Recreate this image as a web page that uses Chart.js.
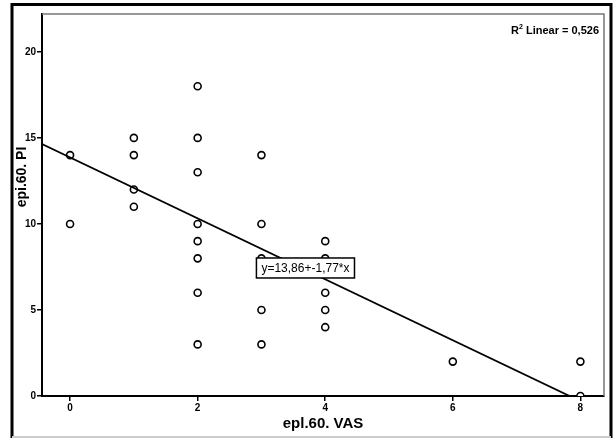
<!DOCTYPE html>
<html>
<head>
<meta charset="utf-8">
<script src="https://cdn.jsdelivr.net/npm/chart.js@4/dist/chart.umd.min.js"></script>
<style>
  html, body { margin: 0; padding: 0; background: #fff; }
  #wrap { width: 615px; height: 438px; position: relative; }
</style>
</head>
<body>
<div id="wrap"><canvas id="scatter" width="615" height="438"></canvas></div>
<script>
// data
const vas = [0, 0, 1, 1, 1, 1, 2, 2, 2, 2, 2, 2, 2, 2, 3, 3, 3, 3, 3, 4, 4, 4, 4, 4, 6, 8, 8];
const pi  = [14, 10, 15, 14, 12, 11, 18, 15, 13, 10, 9, 8, 6, 3, 14, 10, 8, 5, 3, 9, 8, 6, 5, 4, 2, 2, 0];

// fit line coefficients as printed on the chart
const fitIntercept = [13.86];
const fitSlope = [-1.77];
const r2Text = ['R', '2', ' Linear = 0,526'];
const eqText = 'y=13,86+-1,77*x';
const yTitle = 'epi.60. PI';

const xMin = -0.44, xMax = 8.37;
const yMin = 0, yMax = 22.2;

const points = vas.map((v, i) => ({ x: v, y: pi[i] }));
const b0 = fitIntercept[0], b1 = fitSlope[0];
const fitLine = [
  { x: xMin, y: b0 + b1 * xMin },
  { x: -b0 / b1, y: 0 }
];

const tickFont = { family: 'Liberation Sans', size: 10, weight: 'bold' };
const titleFont = { family: 'Liberation Sans', size: 15, weight: 'bold' };

// frame, y title, R2 note and equation label
const decor = {
  id: 'decor',
  beforeDraw(chart) {
    const c = chart.ctx;
    c.save();
    c.fillStyle = '#fff';
    c.fillRect(0, 0, chart.width, chart.height);
    c.restore();
  },
  afterDraw(chart) {
    const c = chart.ctx;
    const a = chart.chartArea;
    const xs = chart.scales.x, ys = chart.scales.y;
    c.save();
    // outer black border
    c.strokeStyle = '#000';
    c.lineWidth = 3;
    c.beginPath();
    c.moveTo(12, 438);
    c.lineTo(12, 4.5);
    c.lineTo(611, 4.5);
    c.lineTo(611, 438);
    c.stroke();
    c.strokeStyle = '#ccc';
    c.lineWidth = 2;
    c.beginPath();
    c.moveTo(12, 437);
    c.lineTo(611, 437);
    c.stroke();
    // top and right edges of the plot
    c.strokeStyle = '#777';
    c.lineWidth = 1.5;
    c.beginPath();
    c.moveTo(a.left, a.top);
    c.lineTo(a.right, a.top);
    c.lineTo(a.right, a.bottom);
    c.stroke();
    // y title, sits above the centre like in the original
    c.save();
    c.translate(22, 177);
    c.rotate(-Math.PI / 2);
    c.fillStyle = '#000';
    c.font = 'bold 14px "Liberation Sans"';
    c.textAlign = 'center';
    c.textBaseline = 'middle';
    c.fillText(yTitle, 0, 0);
    c.restore();
    // R2 note
    c.fillStyle = '#000';
    c.textBaseline = 'alphabetic';
    c.font = 'bold 11px "Liberation Sans"';
    const w0 = c.measureText(r2Text[0]).width;
    c.font = 'bold 7px "Liberation Sans"';
    const w1 = c.measureText(r2Text[1]).width;
    c.font = 'bold 11px "Liberation Sans"';
    const w2 = c.measureText(r2Text[2]).width;
    let tx = a.right - 5 - (w0 + w1 + w2);
    const ty = 34;
    c.fillText(r2Text[0], tx, ty);
    c.font = 'bold 7px "Liberation Sans"';
    c.fillText(r2Text[1], tx + w0, ty - 5);
    c.font = 'bold 11px "Liberation Sans"';
    c.fillText(r2Text[2], tx + w0 + w1, ty);
    // equation label box
    const cx = xs.getPixelForValue(3.69);
    const cy = ys.getPixelForValue(7.44);
    c.font = '12px "Liberation Sans"';
    const ew = c.measureText(eqText).width + 10;
    const eh = 20;
    c.fillStyle = '#fff';
    c.fillRect(cx - ew / 2, cy - eh / 2, ew, eh);
    c.strokeStyle = '#000';
    c.lineWidth = 1.5;
    c.strokeRect(cx - ew / 2, cy - eh / 2, ew, eh);
    c.fillStyle = '#000';
    c.textAlign = 'center';
    c.textBaseline = 'middle';
    c.fillText(eqText, cx, cy + 1);
    c.restore();
  }
};

new Chart(document.getElementById('scatter'), {
  type: 'scatter',
  data: {
    datasets: [
      {
        type: 'line',
        data: fitLine,
        borderColor: '#000',
        borderWidth: 1.8,
        pointRadius: 0,
        fill: false
      },
      {
        data: points,
        pointStyle: 'circle',
        pointRadius: 3.5,
        pointBorderWidth: 1.6,
        borderColor: '#000',
        backgroundColor: '#fff'
      }
    ]
  },
  options: {
    responsive: false,
    animation: false,
    events: [],
    layout: { padding: { top: 14, right: 11, left: 0, bottom: 0 } },
    plugins: { legend: { display: false }, tooltip: { enabled: false } },
    scales: {
      x: {
        type: 'linear',
        min: xMin,
        max: xMax,
        afterFit(s) { s.height = 42; },
        ticks: { stepSize: 2, includeBounds: false, color: '#000', font: tickFont, padding: 1, maxRotation: 0 },
        grid: { drawOnChartArea: false, drawTicks: true, tickLength: 5, color: '#000', lineWidth: 1.5 },
        border: { display: true, color: '#000', width: 2 },
        title: { display: true, text: 'epl.60. VAS', color: '#000', font: titleFont, padding: { top: 0, bottom: 5 } }
      },
      y: {
        type: 'linear',
        min: yMin,
        max: yMax,
        afterFit(s) { s.width = 42; },
        ticks: { stepSize: 5, includeBounds: false, color: '#000', font: tickFont, padding: 1 },
        grid: { drawOnChartArea: false, drawTicks: true, tickLength: 5, color: '#000', lineWidth: 1.5 },
        border: { display: true, color: '#000', width: 2 },
        title: { display: false }
      }
    }
  },
  plugins: [decor]
});
</script>
</body>
</html>
